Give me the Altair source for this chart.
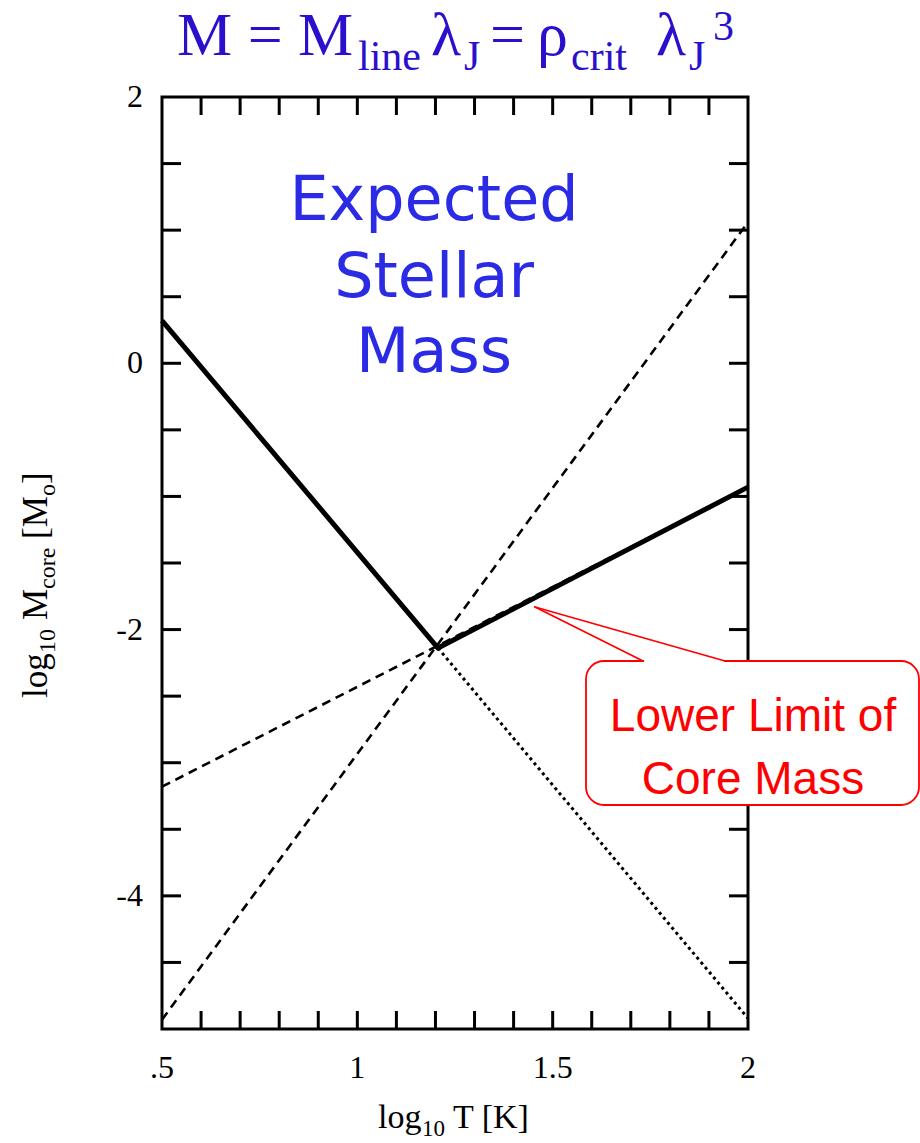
import altair as alt
import pandas as pd

# Lines in the log T - log M plane (log10 T [K], log10 M [Msun])
lower_limit_x = [0.5, 1.2065, 2.0]
lower_limit_y = [0.32, -2.139, -0.93]

steep_x = [0.5, 2.0]
steep_y = [-4.93, 1.06]

shallow_x = [0.5, 2.0]
shallow_y = [-3.18, -0.93]

dotted_x = [1.2065, 2.0]
dotted_y = [-2.139, -4.92]

# Axis ticks and labels
x_ticks = [0.6, 0.7, 0.8, 0.9, 1.0, 1.1, 1.2, 1.3, 1.4, 1.5, 1.6, 1.7, 1.8, 1.9]
y_ticks = [-4.5, -4.0, -3.5, -3.0, -2.5, -2.0, -1.5, -1.0, -0.5, 0.0, 0.5, 1.0, 1.5]
x_label_values = [0.5, 1.0, 1.5, 2.0]
x_label_text = [".5", "1", "1.5", "2"]
y_label_values = [-4, -2, 0, 2]
y_label_text = ["-4", "-2", "0", "2"]

W, H = 586, 932
SERIF = "Liberation Serif"
TITLE_BLUE = "#2a10cc"
TEXT_BLUE = "#2b2be6"
RED = "#ff0000"

xs = alt.Scale(domain=[0.5, 2.0], nice=False, zero=False)
ys = alt.Scale(domain=[-5, 2], nice=False, zero=False)


def line_layer(x, y, **style):
    df = pd.DataFrame({"logT": x, "logM": y})
    return alt.Chart(df).mark_line(color="black", clip=False, **style).encode(
        x=alt.X("logT:Q", scale=xs, axis=None),
        y=alt.Y("logM:Q", scale=ys, axis=None),
    )


def label(txt, x, y, size, font=SERIF, color="black", angle=0, align="left", baseline="alphabetic"):
    return alt.Chart(alt.Data(values=[{}])).mark_text(
        font=font, fontSize=size, color=color, angle=angle, align=align, baseline=baseline
    ).encode(x=alt.value(x), y=alt.value(y), text=alt.value(txt))


# Tick labels placed through the scales
x_labels = alt.Chart(pd.DataFrame({"v": x_label_values, "s": x_label_text})).mark_text(
    font=SERIF, fontSize=32, color="black", baseline="top", align="center"
).encode(x=alt.X("v:Q", scale=xs, axis=None), y=alt.value(H + 24), text="s:N")
y_labels = alt.Chart(pd.DataFrame({"v": y_label_values, "s": y_label_text})).mark_text(
    font=SERIF, fontSize=32, color="black", baseline="middle", align="right"
).encode(y=alt.Y("v:Q", scale=ys, axis=None), x=alt.value(-19), text="s:N")

# Inward ticks on all four sides
xt = pd.DataFrame({"t": x_ticks})
yt = pd.DataFrame({"t": y_ticks})
tick_style = dict(color="black", strokeWidth=3)
ticks_bottom = alt.Chart(xt).mark_rule(**tick_style).encode(
    x=alt.X("t:Q", scale=xs, axis=None), y=alt.value(H), y2=alt.value(H - 18))
ticks_top = alt.Chart(xt).mark_rule(**tick_style).encode(
    x=alt.X("t:Q", scale=xs, axis=None), y=alt.value(0), y2=alt.value(18))
ticks_left = alt.Chart(yt).mark_rule(**tick_style).encode(
    y=alt.Y("t:Q", scale=ys, axis=None), x=alt.value(0), x2=alt.value(19))
ticks_right = alt.Chart(yt).mark_rule(**tick_style).encode(
    y=alt.Y("t:Q", scale=ys, axis=None), x=alt.value(W), x2=alt.value(W - 19))

# Curves
steep = line_layer(steep_x, steep_y, strokeWidth=2.6, strokeDash=[9, 6])
shallow = line_layer(shallow_x, shallow_y, strokeWidth=2.6, strokeDash=[9, 6])
dotted = line_layer(dotted_x, dotted_y, strokeWidth=3, strokeDash=[3, 3.5])
lower = line_layer(lower_limit_x, lower_limit_y, strokeWidth=5, strokeJoin="round")

# Callout box with pointer
box = alt.Chart(alt.Data(values=[{}])).mark_rect(
    fill="white", stroke=RED, strokeWidth=1.8, cornerRadius=18
).encode(x=alt.value(424), x2=alt.value(757), y=alt.value(564), y2=alt.value(708))
gap = alt.Chart(alt.Data(values=[{}])).mark_rule(color="white", strokeWidth=4).encode(
    x=alt.value(482), x2=alt.value(562), y=alt.value(564), y2=alt.value(564))
ptr1 = alt.Chart(alt.Data(values=[{}])).mark_rule(color=RED, strokeWidth=1.8, strokeCap="round").encode(
    x=alt.value(481), x2=alt.value(373), y=alt.value(564), y2=alt.value(510))
ptr2 = alt.Chart(alt.Data(values=[{}])).mark_rule(color=RED, strokeWidth=1.8, strokeCap="round").encode(
    x=alt.value(373), x2=alt.value(563), y=alt.value(510), y2=alt.value(564))

SANS = "Liberation Sans"
callout_text = [
    label("Lower Limit of", 591, 634, 46, font=SANS, color=RED, align="center"),
    label("Core Mass", 591, 697, 46, font=SANS, color=RED, align="center"),
]

# Big blue annotation
expected = [
    label("Expected", 272, 123, 62, font="DejaVu Sans", color=TEXT_BLUE, align="center"),
    label("Stellar", 272, 200, 62, font="DejaVu Sans", color=TEXT_BLUE, align="center"),
    label("Mass", 272, 275, 62, font="DejaVu Sans", color=TEXT_BLUE, align="center"),
]

# Title: M = M_line λ_J = ρ_crit λ_J^3  (x offsets from the plot's left edge)
OX, OY = 162, 97
title = [
    label("M = M", 177 - OX, 55 - OY, 62, color=TITLE_BLUE),
    label("line", 358 - OX, 70 - OY, 42, color=TITLE_BLUE),
    label("λ", 431 - OX, 55 - OY, 62, color=TITLE_BLUE),
    label("J", 464 - OX, 70 - OY, 42, color=TITLE_BLUE),
    label("=", 490 - OX, 55 - OY, 62, color=TITLE_BLUE),
    label("ρ", 537 - OX, 55 - OY, 62, color=TITLE_BLUE),
    label("crit", 571 - OX, 70 - OY, 42, color=TITLE_BLUE),
    label("λ", 656 - OX, 55 - OY, 62, color=TITLE_BLUE),
    label("J", 689 - OX, 70 - OY, 42, color=TITLE_BLUE),
    label("3", 713 - OX, 40 - OY, 42, color=TITLE_BLUE),
]

# Axis titles built from pieces so the subscripts sit low
x_title = [
    label("log", 378 - OX, 1128 - OY, 34),
    label("10", 422 - OX, 1136 - OY, 23),
    label("T [K]", 453 - OX, 1128 - OY, 34),
]
y0 = 698 - OY
bx, sx = 47 - OX, 55 - OX
y_title = [
    label("log", bx, y0, 35, angle=270),
    label("10", sx, y0 - 45, 24, angle=270),
    label("M", bx, y0 - 78, 35, angle=270),
    label("core", sx, y0 - 109, 24, angle=270),
    label("[M", bx, y0 - 159, 35, angle=270),
    label("o", sx, y0 - 202, 24, angle=270),
    label("]", bx, y0 - 214, 35, angle=270),
]

chart = alt.layer(
    ticks_bottom, ticks_top, ticks_left, ticks_right, x_labels, y_labels,
    steep, shallow, dotted, lower,
    box, gap, ptr1, ptr2, *callout_text,
    *expected, *title, *x_title, *y_title,
).properties(
    width=W, height=H,
    autosize=alt.AutoSizeParams(type="none"),
    padding={"left": 162, "top": 97, "right": 172, "bottom": 114},
    background="white",
).configure_view(
    stroke="black", strokeWidth=3
)

chart.save("out.html", embed_options={"renderer": "svg", "actions": False})
